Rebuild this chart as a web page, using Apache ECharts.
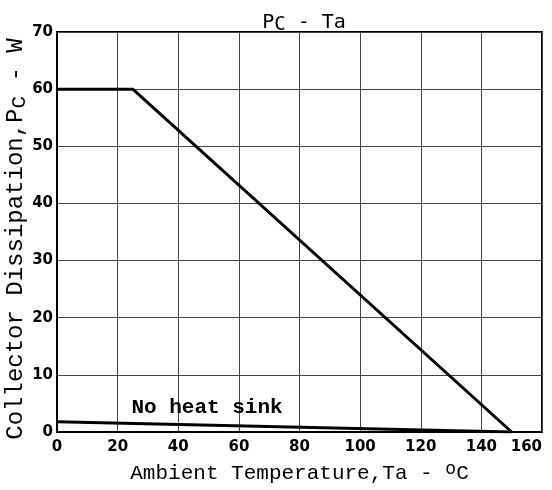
<!DOCTYPE html>
<html lang="en">
<head>
<meta charset="UTF-8">
<title>PC - Ta</title>
<script src="https://cdn.jsdelivr.net/npm/echarts@6/dist/echarts.min.js"></script>
<style>
  body { margin: 0; background: #fff; }
  #main { width: 552px; height: 490px; }
</style>
</head>
<body>
<div id="main"></div>
<script>
// derating curve with infinite heat sink, and free-air curve
var withSink = [[0, 60], [25, 60], [150, 0]];
var noSink = [[0, 1.8], [150, 0]];
var xTicks = [0, 20, 40, 60, 80, 100, 120, 140, 160];
var yTicks = [0, 10, 20, 30, 40, 50, 60, 70];
var noSinkLabel = 'No heat sink';
var noSinkLabelAt = [[49.5, 2.4]];

var mono = 'Liberation Mono';
var tickFont = { fontFamily: 'DejaVu Sans', fontWeight: 'bold', fontSize: 15, color: '#000' };

var myChart = echarts.init(document.getElementById('main'));
myChart.setOption({
  animation: false,
  title: {
    text: '{n|P}{s|C}{n| - Ta}',
    left: 299, top: 5, textAlign: 'center',
    textStyle: {
      fontWeight: 'normal',
      rich: {
        n: { fontFamily: 'DejaVu Sans Mono', fontWeight: 'normal', fontSize: 20, color: '#000' },
        s: { fontFamily: 'DejaVu Sans Mono', fontWeight: 'normal', fontSize: 19, color: '#000', padding: [6, 0, 0, 0] }
      }
    }
  },
  grid: {
    left: 57, right: 10, top: 32, bottom: 58, outerBoundsMode: 'none', containLabel: false,
    show: true, borderColor: '#000', borderWidth: 2
  },
  xAxis: {
    type: 'value', min: xTicks[0], max: xTicks[xTicks.length - 1], interval: 20,
    name: '{n|Ambient Temperature,Ta - }{sup|o}{n|C}',
    nameLocation: 'middle', nameGap: 26,
    nameTextStyle: {
      rich: {
        n: { fontFamily: mono, fontSize: 21, color: '#000' },
        sup: { fontFamily: mono, fontSize: 18, color: '#000', padding: [0, 0, 10, 0] }
      }
    },
    axisLine: { lineStyle: { color: '#000', width: 2 } },
    axisTick: { show: false },
    axisLabel: Object.assign({ margin: 8, alignMaxLabel: 'right' }, tickFont),
    splitLine: { lineStyle: { color: '#444', width: 1 } }
  },
  yAxis: {
    type: 'value', min: yTicks[0], max: yTicks[yTicks.length - 1], interval: 10,
    name: '{n|Collector Dissipation,P}{sub|C}{n| - W}',
    nameLocation: 'middle', nameGap: 27, nameMoveOverlap: false,
    nameTextStyle: {
      padding: [0, 14, 0, 0],
      rich: {
        n: { fontFamily: mono, fontSize: 24, color: '#000' },
        sub: { fontFamily: mono, fontSize: 21, color: '#000', padding: [8, 0, 0, 0] }
      }
    },
    axisLine: { lineStyle: { color: '#000', width: 2 } },
    axisTick: { show: false },
    axisLabel: Object.assign({ margin: 4 }, tickFont),
    splitLine: { lineStyle: { color: '#444', width: 1 } }
  },
  series: [
    {
      type: 'line', data: withSink, symbol: 'none',
      lineStyle: { color: '#000', width: 3 }
    },
    {
      type: 'line', data: noSink, symbol: 'none',
      lineStyle: { color: '#000', width: 3 }
    },
    {
      type: 'scatter', data: noSinkLabelAt, symbolSize: 1,
      itemStyle: { color: 'transparent' },
      label: {
        show: true, position: 'top', distance: 0, formatter: noSinkLabel,
        fontFamily: mono, fontSize: 21, fontWeight: 'bold', color: '#000', opacity: 1,
        textBorderWidth: 0
      }
    }
  ]
});
</script>
</body>
</html>
